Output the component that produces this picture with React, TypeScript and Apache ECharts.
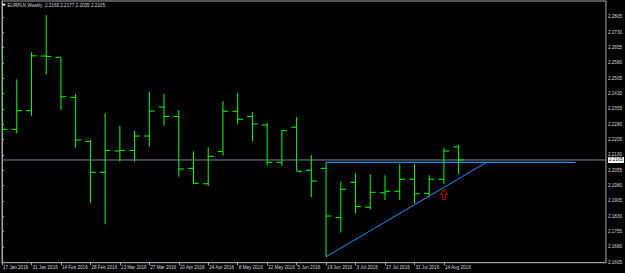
import React, { useEffect, useRef } from 'react';
import * as echarts from 'echarts';

const symbolTitle = 'EURPLN,Weekly';
const lastQuote = ['2.2169', '2.2177', '2.2035', '2.2105'];

const weekDates = [
  '17 Jan 2016', '24 Jan 2016', '31 Jan 2016', '7 Feb 2016', '14 Feb 2016', '21 Feb 2016',
  '28 Feb 2016', '6 Mar 2016', '13 Mar 2016', '20 Mar 2016', '27 Mar 2016', '3 Apr 2016',
  '10 Apr 2016', '17 Apr 2016', '24 Apr 2016', '1 May 2016', '8 May 2016', '15 May 2016',
  '22 May 2016', '29 May 2016', '5 Jun 2016', '12 Jun 2016', '19 Jun 2016', '26 Jun 2016',
  '3 Jul 2016', '10 Jul 2016', '17 Jul 2016', '24 Jul 2016', '31 Jul 2016', '7 Aug 2016',
  '14 Aug 2016', '21 Aug 2016',
];

const opens = [
  2.2330, 2.2255, 2.2346, 2.2613, 2.2607, 2.2411, 2.2196, 2.2045, 2.2149, 2.2152, 2.2222,
  2.2364, 2.2318, 2.2064, 2.1989, 2.2147, 2.2343, 2.2318, 2.2276, 2.2094, 2.2265, 2.2055,
  2.2064, 2.1823, 2.1996, 2.1874, 2.1945, 2.1952, 2.2011, 2.1942, 2.2011, 2.2169,
];
const highs = [
  2.2658, 2.2499, 2.2631, 2.2813, 2.2607, 2.2427, 2.2203, 2.2333, 2.2271, 2.2247, 2.2437,
  2.2429, 2.2349, 2.2147, 2.2167, 2.2393, 2.2432, 2.2339, 2.2287, 2.2251, 2.2315, 2.2129,
  2.2094, 2.1999, 2.2040, 2.2035, 2.2030, 2.2085, 2.2085, 2.2030, 2.2165, 2.2177,
];
const lows = [
  2.2219, 2.2235, 2.2321, 2.2524, 2.2349, 2.2165, 2.1896, 2.1791, 2.2097, 2.2097, 2.2170,
  2.2272, 2.2023, 2.1986, 2.1978, 2.2126, 2.2279, 2.2196, 2.2077, 2.2076, 2.2050, 2.1923,
  2.1632, 2.1750, 2.1843, 2.1864, 2.1909, 2.1909, 2.1893, 2.1926, 2.1988, 2.2035,
];
const closes = [
  2.2255, 2.2346, 2.2614, 2.2611, 2.2414, 2.2203, 2.2045, 2.2152, 2.2152, 2.2222, 2.2344,
  2.2318, 2.2061, 2.1991, 2.2123, 2.2343, 2.2304, 2.2281, 2.2094, 2.2248, 2.2050, 2.2002,
  2.1831, 2.1962, 2.1877, 2.1947, 2.1952, 2.2011, 2.1940, 2.2011, 2.2149, 2.2105,
];

const yTickLabels = [
  '2.1605', '2.1680', '2.1755', '2.1830', '2.1905', '2.1980', '2.2055', '2.2130', '2.2205',
  '2.2280', '2.2355', '2.2430', '2.2505', '2.2580', '2.2655', '2.2730', '2.2805',
];

const bidPrice = 2.2105;
const trendLine = [[22, 2.1632], [32.88, 2.2093]];
const levelLine = [[22, 2.2093], [38.94, 2.2093]];
const arrowPoint = [30, 2.1937];

const FONT = 'Liberation Sans';
const TEXT = '#d8d8d8';
const FRAME = '#a8a8a8';

export default function App() {
  const ref = useRef<HTMLDivElement>(null);
  useEffect(() => {
    if (!ref.current) return;
    const chart = echarts.init(ref.current, null, { renderer: 'svg' });
    const bars = opens.map((o, i) => [i, o, highs[i], lows[i], closes[i]]);
    const labelIdx = weekDates.map((_, i) => i).filter((i) => i % 2 === 0);
    const yVals = yTickLabels.map((s) => parseFloat(s));

    chart.setOption({
      animation: false,
      backgroundColor: '#000000',
      grid: {
        left: 1, right: 19, top: 1, bottom: 10.3,
        show: true, borderColor: FRAME, borderWidth: 1, backgroundColor: '#000000',
      },
      xAxis: {
        type: 'value', min: 0, max: 41, position: 'bottom',
        axisLine: { show: true, lineStyle: { color: FRAME, width: 1 } },
        splitLine: { show: false },
        axisTick: { show: true, customValues: labelIdx, length: 2.5, lineStyle: { color: FRAME } },
        axisLabel: {
          customValues: labelIdx, formatter: (v: number) => weekDates[Math.round(v)] || '',
          color: TEXT, fontSize: 4.6, fontFamily: FONT, align: 'left', margin: 2, padding: [0, 0, 0, 1],
        },
      },
      yAxis: {
        type: 'value', position: 'right', min: 2.1603, max: 2.2882, scale: true,
        axisLine: { show: true, lineStyle: { color: FRAME, width: 1 } },
        splitLine: { show: false },
        axisTick: { show: true, customValues: yVals, length: 2, lineStyle: { color: FRAME } },
        axisLabel: {
          customValues: yVals, formatter: (v: number) => v.toFixed(4),
          color: TEXT, fontSize: 4.6, fontFamily: FONT, margin: 2,
        },
      },
      series: [
        {
          type: 'line', data: [[0, bidPrice], [41, bidPrice]], symbol: 'none', silent: true,
          lineStyle: { color: '#778899', width: 1 },
          endLabel: {
            show: true, formatter: () => lastQuote[3], distance: 2,
            backgroundColor: '#ffffff', color: '#000000', fontSize: 4.6, fontFamily: FONT,
            padding: [1, 1, 0, 1],
          },
          z: 1,
        },
        {
          type: 'custom', data: bars, clip: true, encode: { x: 0, y: [1, 2, 3, 4] }, z: 3,
          renderItem: (params: any, api: any) => {
            const x = api.value(0);
            const pO = api.coord([x, api.value(1)]);
            const pH = api.coord([x, api.value(2)]);
            const pL = api.coord([x, api.value(3)]);
            const pC = api.coord([x, api.value(4)]);
            const t = 5.3;
            const style = { stroke: '#00ff00', lineWidth: 1 };
            return {
              type: 'group',
              children: [
                { type: 'line', shape: { x1: pH[0], y1: pH[1], x2: pL[0], y2: pL[1] }, style },
                { type: 'line', shape: { x1: pO[0] - t, y1: pO[1], x2: pO[0], y2: pO[1] }, style },
                { type: 'line', shape: { x1: pC[0], y1: pC[1], x2: pC[0] + t, y2: pC[1] }, style },
              ],
            };
          },
        },
        {
          type: 'line', data: trendLine, symbol: 'none', silent: true,
          lineStyle: { color: '#1e90ff', width: 1 }, z: 4,
        },
        {
          type: 'line', data: levelLine, symbol: 'none', silent: true,
          lineStyle: { color: '#1e90ff', width: 1.2 }, z: 4,
        },
        {
          type: 'scatter', data: [arrowPoint], silent: true, z: 5,
          symbol: 'path://M3.5,0 L7,5 L5,5 L5,10 L2,10 L2,5 L0,5 Z', symbolSize: [7, 10],
          itemStyle: { color: 'rgba(0,0,0,0)', borderColor: '#e00000', borderWidth: 1 },
        },
      ],
      graphic: [
        { type: 'polygon', shape: { points: [[2, 3.8], [6, 3.8], [4, 6.3]] }, style: { fill: '#ffffff' }, z: 10 },
        {
          type: 'text', x: 7.5, y: 5.2, z: 10,
          style: {
            text: symbolTitle + '  ' + lastQuote.join(' '), fill: TEXT, fontSize: 4.6,
            fontFamily: FONT, verticalAlign: 'middle', align: 'left',
          },
        },
      ],
    });
    return () => chart.dispose();
  }, []);
  return (
    <div
      ref={ref}
      style={{ position: 'fixed', left: 0, top: 0, width: 625, height: 273, background: '#000' }}
    />
  );
}
